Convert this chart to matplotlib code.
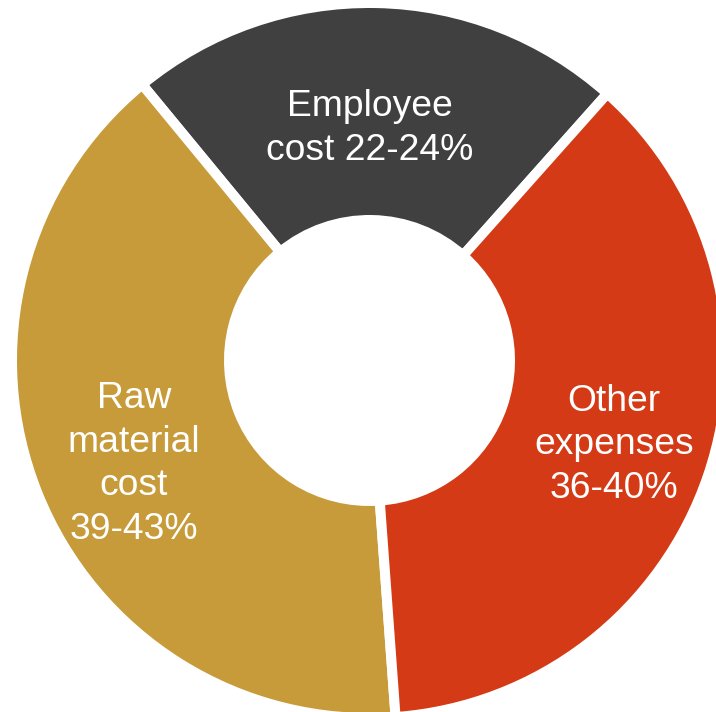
import matplotlib.pyplot as plt

labels = ['Employee\ncost 22-24%', 'Raw\nmaterial\ncost\n39-43%', 'Other\nexpenses\n36-40%']
low = [22, 39, 36]
high = [24, 43, 40]
share = [(a + b) / 2 for a, b in zip(low, high)]
colors = ['#404040', '#C79A3A', '#D43A16']

# label centres in data units (ring outer radius = 1)
label_xy = [(0.0, 0.649), (-0.659, -0.29), (0.684, -0.236)]

plt.rcParams['font.family'] = ['Liberation Sans', 'DejaVu Sans']

fig = plt.figure(figsize=(7.16, 7.12), dpi=100)
ax = fig.add_axes([0, 0, 1, 1])

ax.pie(share, colors=colors, startangle=48.3, counterclock=True,
       radius=1.0,
       wedgeprops=dict(width=0.607, edgecolor='white', linewidth=7.2))

for (x, y), txt in zip(label_xy, labels):
    ax.text(x, y, txt, ha='center', va='center', color='white',
            fontsize=26.8, linespacing=1.32)

# centre at pixel (369.5, 360.5), 357.5 px per unit
s = 357.5
ax.set_xlim(-369.5 / s, (716 - 369.5) / s)
ax.set_ylim(-(712 - 360.5) / s, 360.5 / s)
ax.set_aspect('auto')
ax.axis('off')

fig.savefig('out.png', dpi=100)
